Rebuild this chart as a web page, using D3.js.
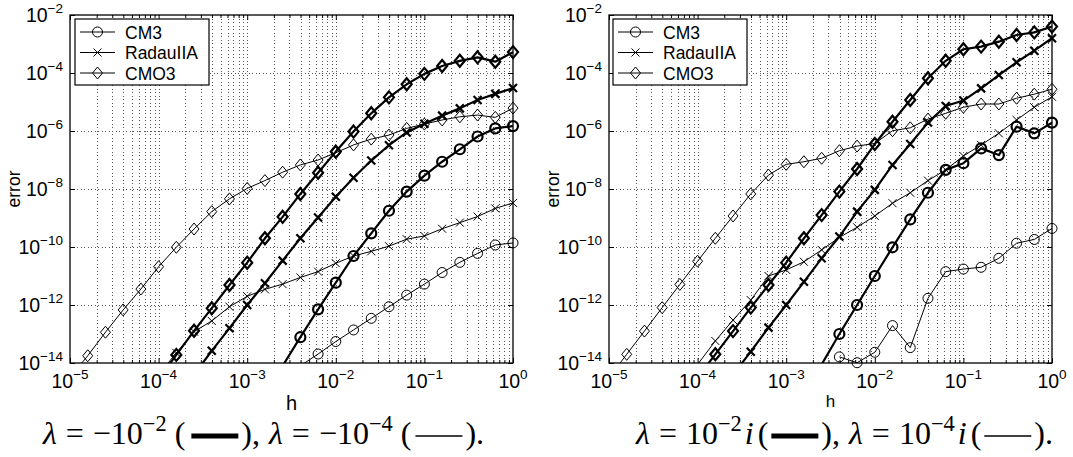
<!DOCTYPE html>
<html>
<head>
<meta charset="utf-8">
<script src="https://cdn.jsdelivr.net/npm/d3@7"></script>
<style>
body { margin: 0; background: #fff; }
svg { display: block; }
</style>
</head>
<body>
<svg id="fig" width="1073" height="457"></svg>
<script>
// step sizes h = 10^hExp, index k = 0..25
var hExp = [0, -0.2, -0.4, -0.6, -0.8, -1, -1.2, -1.4, -1.6, -1.8, -2, -2.2, -2.4, -2.6, -2.8,
            -3, -3.2, -3.4, -3.6, -3.8, -4, -4.2, -4.4, -4.6, -4.8, -5];
var xTickExp = [-5, -4, -3, -2, -1, 0];
var yTickExp = [-14, -12, -10, -8, -6, -4, -2];
var legendNames = ["CM3", "RadauIIA", "CMO3"];

// log10(error), same index as hExp. thick = |lambda| 1e-2, thin = 1e-4
// left panel: lambda = -1e-2, -1e-4
var leftCM3Thick   = [-5.83, -5.91, -6.19, -6.63, -7.06, -7.54, -8.09, -8.75, -9.53, -10.31, -11.23, -12.15, -13.11, -14.1];
var leftCM3Thin    = [-9.86, -9.93, -10.22, -10.53, -10.88, -11.28, -11.66, -12.06, -12.46, -12.86, -13.26, -13.69, -14.1];
var leftRadauThick = [-4.52, -4.72, -4.93, -5.22, -5.47, -5.75, -6.05, -6.49, -7.02, -7.61, -8.27, -8.98, -9.70, -10.47,
                      -11.25, -12.0, -12.80, -13.58, -14.4];
var leftRadauThin  = [-8.48, -8.67, -8.95, -9.16, -9.37, -9.62, -9.73, -9.97, -10.15, -10.31, -10.56, -10.85, -11.05, -11.28,
                      -11.46, -11.70, -12.06, -12.55, -12.92, -13.65, -14.4];
var leftCMO3Thick  = [-3.28, -3.61, -3.46, -3.58, -3.76, -4.03, -4.39, -4.84, -5.39, -6.02, -6.71, -7.44, -8.17, -8.96,
                      -9.70, -10.54, -11.31, -12.11, -12.89, -13.72, -14.55];
var leftCMO3Thin   = [-5.21, -5.53, -5.45, -5.51, -5.62, -5.76, -5.91, -6.14, -6.28, -6.48, -6.75, -7.00, -7.17, -7.42,
                      -7.71, -7.98, -8.34, -8.78, -9.38, -10.01, -10.68, -11.45, -12.17, -12.94, -13.75, -14.5];

// right panel: lambda = 1e-2 i, 1e-4 i
var rightCM3Thick   = [-5.71, -6.08, -5.85, -6.83, -6.60, -7.11, -7.34, -8.13, -9.05, -10.01, -11.00, -12.0, -13.0, -14.05];
var rightCM3Thin    = [-9.36, -9.74, -9.87, -10.39, -10.70, -10.76, -10.85, -11.77, -13.47, -12.71, -13.63, -13.99, -13.79];
var rightRadauThick = [-2.80, -3.23, -3.63, -4.07, -4.53, -4.95, -5.14, -5.71, -6.45, -7.17, -8.03, -8.78, -9.64, -10.39,
                       -11.2, -12.0, -12.78, -13.61, -14.4];
var rightRadauThin  = [-4.82, -5.18, -5.62, -6.08, -6.48, -6.86, -7.34, -7.71, -8.13, -8.49, -8.93, -9.32, -9.67, -10.10,
                       -10.51, -10.79, -11.00, -11.83, -12.52, -13.24, -14.05];
var rightCMO3Thick  = [-2.40, -2.60, -2.69, -2.92, -3.09, -3.18, -3.58, -4.18, -4.93, -5.68, -6.45, -7.31, -8.09, -8.90,
                       -9.70, -10.54, -11.31, -12.09, -12.90, -13.70, -14.5];
var rightCMO3Thin   = [-4.56, -4.73, -4.87, -5.07, -5.07, -5.18, -5.39, -5.59, -5.89, -5.99, -6.43, -6.52, -6.68, -6.94,
                       -7.06, -7.15, -7.52, -8.17, -8.93, -9.70, -10.49, -11.29, -12.09, -12.90, -13.70, -14.5];

var svg = d3.select("#fig");
var yTop = 15, yBot = 363;
var sans = "'Liberation Sans', Arial, Helvetica, sans-serif";
var serif = "'Liberation Serif', 'Times New Roman', serif";

function markerPath(type) {
    if (type == "circle") return d3.symbol().type(d3.symbolCircle).size(Math.PI * 25)();
    if (type == "diamond") return "M0,-6L5,0L0,6L-5,0Z";
    return "M-4,-4L4,4M-4,4L4,-4";
}

function supLabel(sel, exp, size, supSize, rise) {
    sel.append("tspan").text("10").style("font-size", size + "px");
    sel.append("tspan").attr("dy", -rise).text(exp == 0 ? "0" : "\u2212" + Math.abs(exp))
        .style("font-size", supSize + "px");
}

function drawPanel(p) {
    var x = d3.scaleLog().domain([1e-5, 1]).range([p.x0, p.x1]);
    var y = d3.scaleLog().domain([1e-14, 1e-2]).range([yBot, yTop]);
    var g = svg.append("g");
    var clipId = "clip" + p.id;
    g.append("clipPath").attr("id", clipId).append("rect")
        .attr("x", p.x0).attr("y", yTop).attr("width", p.x1 - p.x0).attr("height", yBot - yTop);

    var xMajor = xTickExp.map(function (e) { return Math.pow(10, e); });
    var xMinor = [];
    xTickExp.slice(0, -1).forEach(function (e) {
        for (var m = 2; m < 10; m++) xMinor.push(m * Math.pow(10, e));
    });
    var yMajor = yTickExp.map(function (e) { return Math.pow(10, e); });

    // dotted grid
    var grid = g.append("g").attr("stroke", "#555").attr("stroke-width", 1)
        .attr("stroke-dasharray", "1,2.5").attr("shape-rendering", "crispEdges");
    grid.selectAll("line.vx").data(xMajor.slice(1, -1).concat(xMinor)).enter().append("line")
        .attr("x1", function (d) { return Math.round(x(d)) + 0.5; })
        .attr("x2", function (d) { return Math.round(x(d)) + 0.5; })
        .attr("y1", yTop).attr("y2", yBot);
    grid.selectAll("line.hy").data(yMajor.slice(1, -1)).enter().append("line")
        .attr("y1", function (d) { return Math.round(y(d)) + 0.5; })
        .attr("y2", function (d) { return Math.round(y(d)) + 0.5; })
        .attr("x1", p.x0).attr("x2", p.x1);

    // series
    var line = d3.line()
        .x(function (d) { return x(d.h); })
        .y(function (d) { return y(d.e); });
    p.series.forEach(function (s) {
        var pts = s.data.map(function (v, k) { return { h: Math.pow(10, hExp[k]), e: Math.pow(10, v) }; });
        var sw = s.thick ? 2.2 : 1;
        g.append("path").datum(pts)
            .attr("clip-path", "url(#" + clipId + ")")
            .attr("fill", "none").attr("stroke", "#000").attr("stroke-width", sw)
            .attr("stroke-linejoin", "round")
            .attr("d", line);
        g.append("g").selectAll("path")
            .data(pts.filter(function (d) { return d.e >= 1e-14 && d.e <= 1e-2; }))
            .enter().append("path")
            .attr("transform", function (d) { return "translate(" + x(d.h) + "," + y(d.e) + ")"; })
            .attr("d", markerPath(s.marker))
            .attr("fill", "none").attr("stroke", "#000").attr("stroke-width", sw);
    });

    // axes: ticks pointing inward on all sides
    function noDomain(a) { a.select(".domain").remove(); a.selectAll("line").attr("stroke", "#000"); }
    g.append("g").attr("transform", "translate(0," + yBot + ")")
        .call(d3.axisBottom(x).tickValues(xMajor).tickSize(-5).tickFormat("")).call(noDomain);
    g.append("g").attr("transform", "translate(0," + yBot + ")")
        .call(d3.axisBottom(x).tickValues(xMinor).tickSize(-3).tickFormat("")).call(noDomain);
    g.append("g").attr("transform", "translate(0," + yTop + ")")
        .call(d3.axisTop(x).tickValues(xMajor).tickSize(-5).tickFormat("")).call(noDomain);
    g.append("g").attr("transform", "translate(0," + yTop + ")")
        .call(d3.axisTop(x).tickValues(xMinor).tickSize(-3).tickFormat("")).call(noDomain);
    g.append("g").attr("transform", "translate(" + p.x0 + ",0)")
        .call(d3.axisLeft(y).tickValues(yMajor).tickSize(-5).tickFormat("")).call(noDomain);
    g.append("g").attr("transform", "translate(" + p.x1 + ",0)")
        .call(d3.axisRight(y).tickValues(yMajor).tickSize(-5).tickFormat("")).call(noDomain);

    g.append("rect").attr("x", p.x0).attr("y", yTop)
        .attr("width", p.x1 - p.x0).attr("height", yBot - yTop)
        .attr("fill", "none").attr("stroke", "#000").attr("stroke-width", 1.3);

    // tick labels
    g.selectAll("text.xl").data(xTickExp).enter().append("text")
        .attr("x", function (e) { return x(Math.pow(10, e)); })
        .attr("y", yBot + 25)
        .attr("text-anchor", "middle").style("font-family", sans)
        .each(function (e) { supLabel(d3.select(this), e, 19.5, 13.5, 9); });
    g.selectAll("text.yl").data(yTickExp).enter().append("text")
        .attr("x", p.x0 - 7)
        .attr("y", function (e) { return y(Math.pow(10, e)) + 7; })
        .attr("text-anchor", "end").style("font-family", sans)
        .each(function (e) { supLabel(d3.select(this), e, 19.5, 13.5, 9); });

    // axis titles
    g.append("text").attr("x", (p.x0 + p.x1) / 2).attr("y", p.hBase)
        .attr("text-anchor", "middle").style("font-family", sans).style("font-size", p.hSize + "px")
        .text("h");
    g.append("text").attr("transform", "translate(" + (p.x0 - 50.5) + "," + ((yTop + yBot) / 2) + ") rotate(-90)")
        .attr("text-anchor", "middle").style("font-family", sans).style("font-size", "17.5px")
        .text("error");

    // legend
    var lg = g.append("g").attr("transform", "translate(" + (p.x0 + p.legendDx) + "," + (yTop + 4) + ")");
    lg.append("rect").attr("width", 134).attr("height", 66)
        .attr("fill", "#fff").attr("stroke", "#000").attr("stroke-width", 1.2);
    ["circle", "cross", "diamond"].forEach(function (m, i) {
        var cy = 13 + i * 20.5;
        lg.append("line").attr("x1", 5).attr("x2", 40).attr("y1", cy).attr("y2", cy)
            .attr("stroke", "#000").attr("stroke-width", 1);
        lg.append("path").attr("transform", "translate(22.5," + cy + ")").attr("d", markerPath(m))
            .attr("fill", "none").attr("stroke", "#000").attr("stroke-width", 1);
        lg.append("text").attr("x", 50).attr("y", cy + 6.5)
            .style("font-family", sans).style("font-size", "17.5px").text(legendNames[i]);
    });
}

function drawCaption(cx, base, size, pieces) {
    var g = svg.append("g");
    var cur = 0;
    pieces.forEach(function (p) {
        if (p.gap) { cur += p.gap; return; }
        if (p.bar) {
            g.append("line").attr("x1", cur).attr("x2", cur + 47)
                .attr("y1", base - 8).attr("y2", base - 8)
                .attr("stroke", "#000").attr("stroke-width", p.bar);
            cur += 47;
            return;
        }
        var t = g.append("text").attr("x", cur).attr("y", p.sup ? base - 13 : base)
            .style("font-family", serif)
            .style("font-size", (p.sup ? size * 0.7 : size) + "px")
            .style("font-style", p.it ? "italic" : "normal")
            .text(p.t);
        cur += t.node().getComputedTextLength();
    });
    g.attr("transform", "translate(" + (cx - cur / 2) + ",0)");
}

drawPanel({
    id: "L", x0: 70, x1: 513, legendDx: 5, hBase: 410, hSize: 20,
    series: [
        { marker: "circle", thick: false, data: leftCM3Thin },
        { marker: "cross", thick: false, data: leftRadauThin },
        { marker: "diamond", thick: false, data: leftCMO3Thin },
        { marker: "circle", thick: true, data: leftCM3Thick },
        { marker: "cross", thick: true, data: leftRadauThick },
        { marker: "diamond", thick: true, data: leftCMO3Thick }
    ]
});
drawPanel({
    id: "R", x0: 609, x1: 1052, legendDx: 4, hBase: 407, hSize: 17,
    series: [
        { marker: "circle", thick: false, data: rightCM3Thin },
        { marker: "cross", thick: false, data: rightRadauThin },
        { marker: "diamond", thick: false, data: rightCMO3Thin },
        { marker: "circle", thick: true, data: rightCM3Thick },
        { marker: "cross", thick: true, data: rightRadauThick },
        { marker: "diamond", thick: true, data: rightCMO3Thick }
    ]
});

drawCaption(263.5, 444, 32, [
    { t: "\u03bb", it: true }, { gap: 9 }, { t: "=" }, { gap: 9 }, { t: "\u221210" }, { t: "\u22122", sup: true },
    { gap: 8 }, { t: "(" }, { gap: 6 }, { bar: 5 }, { gap: 3 }, { t: ")," }, { gap: 9 },
    { t: "\u03bb", it: true }, { gap: 9 }, { t: "=" }, { gap: 9 }, { t: "\u221210" }, { t: "\u22124", sup: true },
    { gap: 8 }, { t: "(" }, { gap: 4 }, { bar: 1.6 }, { gap: 3 }, { t: ")." }
]);
drawCaption(844.5, 444, 32, [
    { t: "\u03bb", it: true }, { gap: 9 }, { t: "=" }, { gap: 9 }, { t: "10" }, { t: "\u22122", sup: true },
    { gap: 3 }, { t: "i", it: true }, { gap: 4 }, { t: "(" }, { gap: 3 }, { bar: 5 }, { gap: 3 }, { t: ")," }, { gap: 9 },
    { t: "\u03bb", it: true }, { gap: 9 }, { t: "=" }, { gap: 9 }, { t: "10" }, { t: "\u22124", sup: true },
    { gap: 3 }, { t: "i", it: true }, { gap: 4 }, { t: "(" }, { gap: 3 }, { bar: 1.6 }, { gap: 3 }, { t: ")." }
]);
</script>
</body>
</html>
